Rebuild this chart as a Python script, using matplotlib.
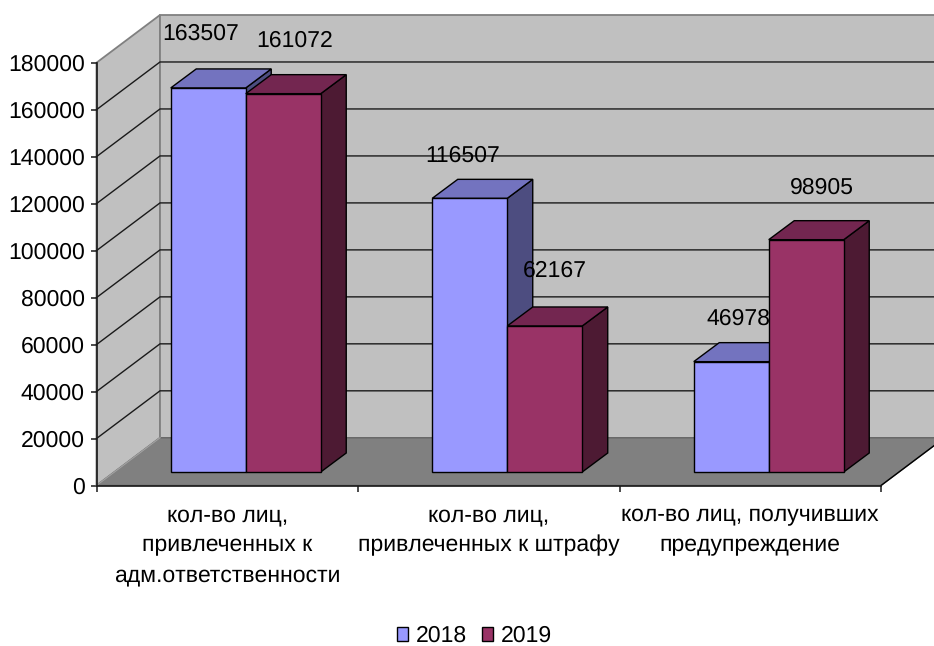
"""3D-look clustered bars: administrative penalties, 2018 vs 2019."""

import matplotlib
matplotlib.use("Agg")
import matplotlib.pyplot as plt
from matplotlib.patches import Patch

categories = [
    "кол-во лиц,\nпривлеченных к\nадм.ответственности",
    "кол-во лиц,\nпривлеченных к штрафу",
    "кол-во лиц, получивших\nпредупреждение",
]
series_names = ["2018", "2019"]
values_2018 = [163507, 116507, 46978]
values_2019 = [161072, 62167, 98905]
y_ticks = [0, 20000, 40000, 60000, 80000, 100000, 120000, 140000, 160000, 180000]

# label offsets from the front top centre of each bar, in pixels (x right, y up)
label_offsets_2018 = [(-8, 54), (-7, 43), (7, 43)]
label_offsets_2019 = [(11, 53), (10, 55), (16, 52)]

WIDTH, HEIGHT = 934, 646
DPI = 100
FONT = 16.3
CAT_FONT = 16.9

WALL = "#c0c0c0"
FLOOR = "#808080"
EDGE = "#808080"
FACE_COLORS = [("#9999ff", "#7373bf", "#4d4d80"), ("#993366", "#732650", "#4d1a33")]

plt.rcParams["font.family"] = ["Liberation Sans", "DejaVu Sans"]
plt.rcParams["text.hinting"] = "none"
plt.rcParams["text.hinting_factor"] = 1

fig = plt.figure(figsize=(WIDTH / DPI, HEIGHT / DPI), dpi=DPI)
left, right, top, bottom = 96.5, 881.0, 62.7, 485.5
ax = fig.add_axes([left / WIDTH, 1 - bottom / HEIGHT, (right - left) / WIDTH, (bottom - top) / HEIGHT])
ax.set_xlim(0, 3)
ax.set_ylim(0, 180000)

px_x = 3 / (right - left)
px_y = 180000 / (bottom - top)

# wall depth and bar depth, in data units
wall_dx, wall_dy = 63.5 * px_x, 47.7 * px_y
bar_dx, bar_dy = 25.5 * px_x, 19 * px_y
front_dx, front_dy = 18.7 * px_x, 13.5 * px_y
bar_start, bar_width = 0.2124, 0.2868


def face(xs, ys, color, zorder, edge="black", lw=1.0):
    ax.fill(xs, ys, facecolor=color, edgecolor=edge, linewidth=lw, zorder=zorder, clip_on=False)


# side wall, back wall and floor
face([0, wall_dx, wall_dx, 0], [0, wall_dy, 180000 + wall_dy, 180000], WALL, 1, EDGE, 1.3)
face([wall_dx, 3 + wall_dx, 3 + wall_dx, wall_dx], [wall_dy, wall_dy, 180000 + wall_dy, 180000 + wall_dy], WALL, 1, EDGE, 1.3)
face([0, wall_dx, 3 + wall_dx, 3], [0, wall_dy, wall_dy, 0], FLOOR, 1.5, "#666666", 1.0)
ax.plot([0, wall_dx], [0, wall_dy], color="#a0a0a0", lw=1.0, zorder=1.6, clip_on=False)
ax.plot([3, 3 + wall_dx], [0, wall_dy], color="black", lw=1.0, zorder=1.6, clip_on=False)

for v in y_ticks[1:-1]:
    ax.plot([0, wall_dx, 3 + wall_dx], [v, v + wall_dy, v + wall_dy], color="#1a1a1a", lw=1.0, zorder=1.8, clip_on=False)

# bars: front face through ax.bar, top and side as skewed polygons
z = 3
for i in range(len(categories)):
    for s, vals in enumerate([values_2018, values_2019]):
        front, top_c, side_c = FACE_COLORS[s]
        x0 = i + bar_start + s * bar_width + front_dx
        x1 = x0 + bar_width
        y0 = front_dy
        y1 = front_dy + vals[i]
        face([x1, x1 + bar_dx, x1 + bar_dx, x1], [y0, y0 + bar_dy, y1 + bar_dy, y1], side_c, z)
        face([x0, x1, x1 + bar_dx, x0 + bar_dx], [y1, y1, y1 + bar_dy, y1 + bar_dy], top_c, z)
        ax.bar(x0, vals[i], width=bar_width, bottom=y0, align="edge", color=front,
               edgecolor="black", linewidth=1.0, zorder=z + 0.5, clip_on=False)
        offsets = label_offsets_2018 if s == 0 else label_offsets_2019
        off = offsets[i]
        ax.annotate(str(vals[i]), xy=((x0 + x1) / 2, y1), xytext=(off[0] * 0.72, off[1] * 0.72),
                    textcoords="offset points", ha="center", va="center", fontsize=FONT,
                    color="black", zorder=10, annotation_clip=False)
        z += 1

# axes
for name in ("top", "right"):
    ax.spines[name].set_visible(False)
for name in ("left", "bottom"):
    ax.spines[name].set_linewidth(1.2)
    ax.spines[name].set_color("#1a1a1a")
    ax.spines[name].set_zorder(20)

ax.set_yticks(y_ticks)
ax.set_yticklabels([str(v) for v in y_ticks], fontsize=FONT)
ax.tick_params(axis="y", length=4.5, width=1.1, pad=4.0, color="#1a1a1a")
ax.set_xticks([0, 1, 2, 3])
ax.set_xticklabels([])
ax.set_xticks([0.5, 1.5, 2.5], minor=True)
ax.set_xticklabels(categories, minor=True, fontsize=CAT_FONT, linespacing=1.53)
ax.tick_params(axis="x", which="major", length=4.5, width=1.1, color="#1a1a1a")
ax.tick_params(axis="x", which="minor", length=0, pad=13.5)

handles = [Patch(facecolor=FACE_COLORS[k][0], edgecolor="black", linewidth=1.0, label=series_names[k]) for k in range(2)]
fig.legend(handles=handles, loc="center", bbox_to_anchor=(474.5 / WIDTH, 1 - 636 / HEIGHT), ncol=2, frameon=False,
           fontsize=FONT, handlelength=0.5, handleheight=0.55, handletextpad=0.36, columnspacing=0.62,
           borderpad=0, borderaxespad=0)

fig.savefig("out.png", dpi=DPI)
